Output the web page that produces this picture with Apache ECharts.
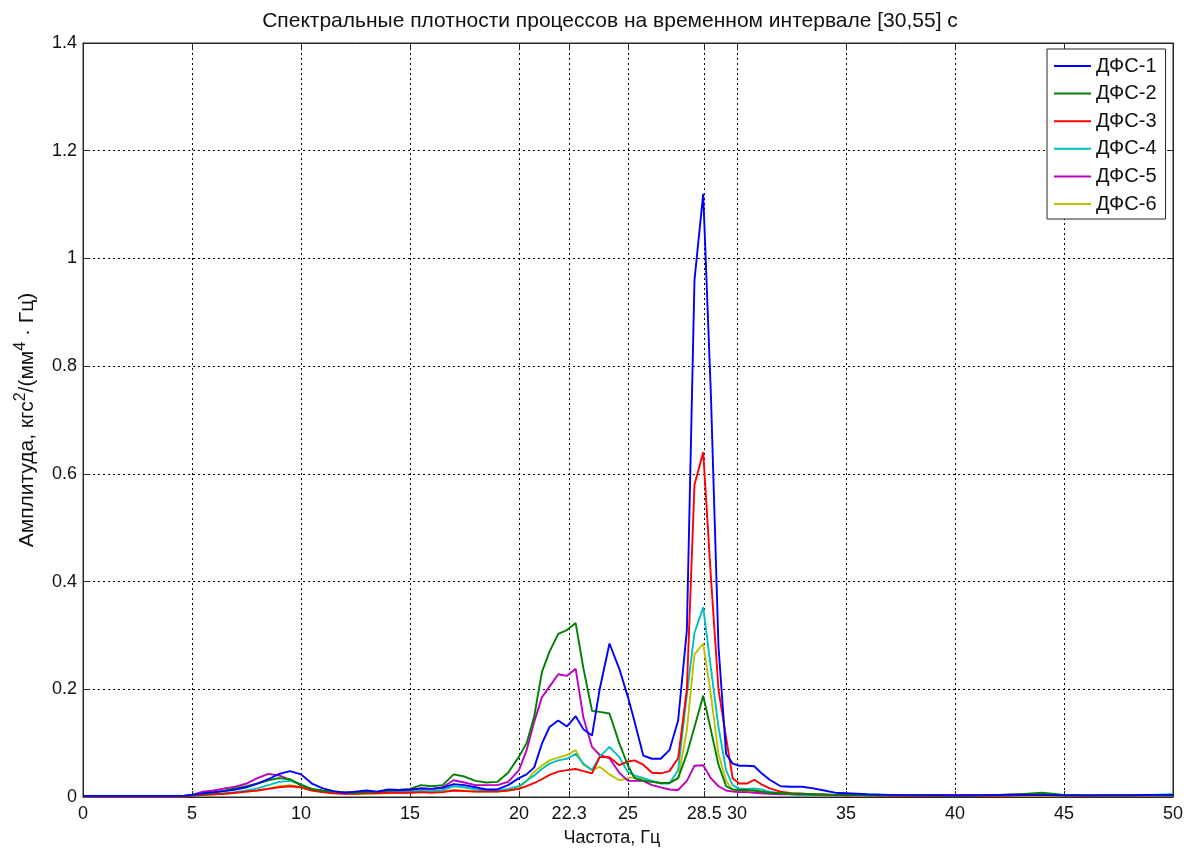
<!DOCTYPE html>
<html>
<head>
<meta charset="utf-8">
<script src="https://cdn.jsdelivr.net/npm/echarts@6/dist/echarts.min.js"></script>
<style>
html,body{margin:0;padding:0;background:#fff;}
#chart{width:1192px;height:852px;}
</style>
</head>
<body>
<div id="chart"></div>
<script>
const freqs = [0, 4.6,
  5.0, 5.5, 6.0, 6.5, 7.0, 7.5, 8.0, 8.5, 9.0, 9.5, 10.0, 10.5, 11.0, 11.5, 12.0, 12.5, 13.0, 13.5, 14.0, 14.5,
  15.0, 15.5, 16.0, 16.5, 17.0, 17.5, 18.0, 18.5, 19.0, 19.5, 20.0,
  20.35, 20.7, 21.05, 21.4, 21.8, 22.2, 22.6, 22.95, 23.35, 23.7, 24.15, 24.6, 25.0, 25.3, 25.7, 26.1, 26.5, 26.9,
  27.3, 27.7, 28.05, 28.45, 28.8, 29.15, 29.5, 29.8, 30.1, 30.45, 30.8, 31.1, 31.5,
  32.0, 32.5, 33.0, 33.5, 34.0, 34.5, 35.0,
  36, 37, 38, 39, 40, 41, 42, 43, 44, 45, 46, 47, 48, 49, 50];

const dfs1 = [0.002, 0.002,
  0.004, 0.007, 0.009, 0.011, 0.014, 0.018, 0.025, 0.033, 0.043, 0.048, 0.042, 0.025, 0.016, 0.011, 0.008, 0.010, 0.012, 0.010, 0.014, 0.013,
  0.014, 0.016, 0.015, 0.017, 0.024, 0.022, 0.018, 0.014, 0.014, 0.022, 0.035,
  0.042, 0.055, 0.099, 0.130, 0.142, 0.131, 0.150, 0.126, 0.114, 0.200, 0.285, 0.238, 0.185, 0.140, 0.077, 0.071, 0.071, 0.087,
  0.142, 0.310, 0.960, 1.120, 0.750, 0.280, 0.080, 0.062, 0.058, 0.058, 0.057, 0.045, 0.032,
  0.020, 0.019, 0.019, 0.016, 0.012, 0.008, 0.007,
  0.005, 0.004, 0.003, 0.003, 0.003, 0.003, 0.004, 0.004, 0.004, 0.003, 0.003, 0.003, 0.003, 0.004, 0.004];

const dfs2 = [0.002, 0.002,
  0.004, 0.006, 0.008, 0.012, 0.016, 0.020, 0.025, 0.031, 0.035, 0.033, 0.022, 0.015, 0.012, 0.010, 0.009, 0.008, 0.009, 0.010, 0.012, 0.013,
  0.015, 0.022, 0.020, 0.022, 0.042, 0.038, 0.030, 0.027, 0.028, 0.045, 0.075,
  0.100, 0.150, 0.232, 0.270, 0.303, 0.310, 0.323, 0.240, 0.160, 0.158, 0.155, 0.100, 0.058, 0.035, 0.030, 0.028, 0.026, 0.026,
  0.035, 0.080, 0.130, 0.188, 0.125, 0.060, 0.020, 0.014, 0.013, 0.013, 0.012, 0.010, 0.008,
  0.007, 0.006, 0.006, 0.005, 0.005, 0.004, 0.004,
  0.003, 0.003, 0.003, 0.003, 0.002, 0.003, 0.004, 0.005, 0.008, 0.004, 0.003, 0.003, 0.003, 0.003, 0.003];

const dfs3 = [0.001, 0.001,
  0.002, 0.004, 0.005, 0.006, 0.008, 0.010, 0.012, 0.015, 0.018, 0.020, 0.018, 0.012, 0.009, 0.007, 0.006, 0.006, 0.007, 0.007, 0.008, 0.008,
  0.008, 0.009, 0.008, 0.009, 0.012, 0.011, 0.010, 0.010, 0.010, 0.012, 0.015,
  0.020, 0.026, 0.033, 0.041, 0.047, 0.050, 0.052, 0.048, 0.044, 0.074, 0.074, 0.059, 0.066, 0.068, 0.060, 0.045, 0.044, 0.048,
  0.072, 0.200, 0.580, 0.640, 0.410, 0.200, 0.110, 0.035, 0.025, 0.025, 0.032, 0.024, 0.016,
  0.010, 0.007, 0.006, 0.005, 0.004, 0.004, 0.003,
  0.003, 0.002, 0.002, 0.002, 0.002, 0.002, 0.002, 0.003, 0.003, 0.003, 0.002, 0.003, 0.003, 0.003, 0.003];

const dfs4 = [0.001, 0.001,
  0.002, 0.004, 0.005, 0.007, 0.009, 0.012, 0.016, 0.022, 0.028, 0.030, 0.024, 0.014, 0.010, 0.008, 0.007, 0.007, 0.008, 0.008, 0.009, 0.009,
  0.010, 0.012, 0.011, 0.013, 0.020, 0.018, 0.014, 0.012, 0.012, 0.015, 0.020,
  0.030, 0.040, 0.052, 0.062, 0.068, 0.071, 0.080, 0.062, 0.050, 0.075, 0.093, 0.074, 0.046, 0.040, 0.035, 0.030, 0.025, 0.025,
  0.050, 0.190, 0.305, 0.352, 0.240, 0.130, 0.050, 0.022, 0.016, 0.015, 0.016, 0.014, 0.010,
  0.007, 0.005, 0.004, 0.004, 0.003, 0.003, 0.003,
  0.003, 0.002, 0.002, 0.002, 0.002, 0.002, 0.002, 0.003, 0.004, 0.003, 0.003, 0.003, 0.003, 0.004, 0.005];

const dfs5 = [0.002, 0.002,
  0.004, 0.010, 0.012, 0.016, 0.019, 0.025, 0.035, 0.043, 0.040, 0.032, 0.022, 0.014, 0.010, 0.008, 0.007, 0.008, 0.009, 0.009, 0.010, 0.011,
  0.012, 0.016, 0.015, 0.018, 0.031, 0.027, 0.022, 0.022, 0.022, 0.028, 0.050,
  0.087, 0.140, 0.185, 0.205, 0.228, 0.225, 0.238, 0.148, 0.093, 0.078, 0.072, 0.045, 0.030, 0.030, 0.030, 0.022, 0.018, 0.014,
  0.013, 0.030, 0.058, 0.059, 0.035, 0.020, 0.012, 0.010, 0.009, 0.009, 0.008, 0.007, 0.006,
  0.005, 0.005, 0.004, 0.004, 0.004, 0.003, 0.003,
  0.003, 0.003, 0.004, 0.004, 0.004, 0.004, 0.004, 0.005, 0.004, 0.003, 0.003, 0.003, 0.003, 0.003, 0.003];

const dfs6 = [0.002, 0.002,
  0.003, 0.004, 0.005, 0.006, 0.008, 0.010, 0.012, 0.016, 0.020, 0.022, 0.018, 0.012, 0.009, 0.007, 0.006, 0.006, 0.006, 0.007, 0.007, 0.008,
  0.008, 0.009, 0.009, 0.010, 0.013, 0.012, 0.010, 0.010, 0.010, 0.012, 0.016,
  0.030, 0.047, 0.058, 0.068, 0.073, 0.078, 0.087, 0.060, 0.050, 0.056, 0.042, 0.031, 0.035, 0.037, 0.032, 0.029, 0.026, 0.026,
  0.035, 0.124, 0.265, 0.285, 0.190, 0.080, 0.030, 0.012, 0.011, 0.011, 0.012, 0.010, 0.008,
  0.006, 0.005, 0.004, 0.004, 0.003, 0.003, 0.003,
  0.002, 0.002, 0.002, 0.002, 0.002, 0.002, 0.002, 0.002, 0.002, 0.002, 0.002, 0.002, 0.002, 0.003, 0.003];

const seriesNames = ['ДФС-1', 'ДФС-2', 'ДФС-3', 'ДФС-4', 'ДФС-5', 'ДФС-6'];
const seriesValues = [dfs1, dfs2, dfs3, dfs4, dfs5, dfs6];
const seriesColors = ['#0000FF', '#008000', '#FF0000', '#00BFBF', '#BF00BF', '#BFBF00'];

const xTicks = [0, 5, 10, 15, 20, 22.3, 25, 28.5, 30, 35, 40, 45, 50];
const titleText = 'Спектральные плотности процессов на временном интервале [30,55] с';
const xName = 'Частота, Гц';
const yName = 'Амплитуда, кгс{sup|2}/(мм{sup|4}{dot| · }Гц)';

const FONT = '"Liberation Sans", Arial, sans-serif';
const AX = '#262626';

const chart = echarts.init(document.getElementById('chart'), null, {renderer: 'canvas', width: 1192, height: 852});

const series = seriesNames.map((name, k) => ({
  name: name,
  type: 'line',
  xAxisIndex: 0,
  yAxisIndex: 0,
  symbol: 'none',
  smooth: false,
  animation: false,
  data: freqs.map((f, i) => [f, seriesValues[k][i]]),
  lineStyle: {color: seriesColors[k], width: 1.9},
  itemStyle: {color: seriesColors[k]},
  z: 10 - k
}));

const option = {
  animation: false,
  backgroundColor: '#fff',
  title: {
    text: titleText,
    left: 605,
    textAlign: 'center',
    top: 6,
    textStyle: {fontFamily: FONT, fontSize: 21, fontWeight: 'normal', color: '#111'}
  },
  grid: {
    left: 83, right: 19, top: 43, bottom: 52,
    show: true, borderColor: AX, borderWidth: 1, backgroundColor: '#fff',
    containLabel: false
  },
  legend: {
    orient: 'vertical',
    left: 1047, top: 49,
    padding: [7, 9, 5, 6],
    itemWidth: 37, itemHeight: 20, itemGap: 7.6,
    backgroundColor: '#fff',
    borderColor: AX, borderWidth: 1,
    itemStyle: {opacity: 0},
    lineStyle: {width: 2},
    textStyle: {fontFamily: FONT, fontSize: 20, color: '#111', lineHeight: 20},
    data: seriesNames
  },
  xAxis: [{
    type: 'value', min: 0, max: 50, position: 'bottom',
    name: xName, nameLocation: 'middle', nameGap: 32,
    nameTextStyle: {fontFamily: FONT, fontSize: 18, color: '#111', padding: [0, 32, 0, 0]},
    axisLine: {show: true, onZero: false, lineStyle: {color: AX, width: 1}},
    axisTick: {show: true, inside: true, length: 6, customValues: xTicks, lineStyle: {color: AX}},
    axisLabel: {show: true, customValues: xTicks, margin: 8, hideOverlap: false,
      fontFamily: FONT, fontSize: 18, color: '#111'},
    splitLine: {show: true, lineStyle: {color: '#000', type: [2, 3], width: 1}}
  }, {
    type: 'value', min: 0, max: 50, position: 'top',
    axisLine: {show: true, onZero: false, lineStyle: {color: AX, width: 1}},
    axisTick: {show: true, inside: true, length: 6, customValues: xTicks, lineStyle: {color: AX}},
    axisLabel: {show: false},
    splitLine: {show: false}
  }],
  yAxis: [{
    type: 'value', min: 0, max: 1.4, interval: 0.2, position: 'left',
    name: yName, nameLocation: 'middle', nameGap: 40,
    nameTextStyle: {
      fontFamily: FONT, fontSize: 21, color: '#111', lineHeight: 28,
      rich: {
        sup: {fontFamily: FONT, fontSize: 16, color: '#111', verticalAlign: 'top', lineHeight: 28, padding: [0, 0, 12, 0]},
        dot: {fontFamily: FONT, fontSize: 21, color: '#111', lineHeight: 28}
      }
    },
    axisLine: {show: true, onZero: false, lineStyle: {color: AX, width: 1}},
    axisTick: {show: true, inside: true, length: 6, lineStyle: {color: AX}},
    axisLabel: {show: true, margin: 6, fontFamily: FONT, fontSize: 18, color: '#111'},
    splitLine: {show: true, lineStyle: {color: '#000', type: [2, 3], width: 1}}
  }, {
    type: 'value', min: 0, max: 1.4, interval: 0.2, position: 'right',
    axisLine: {show: true, onZero: false, lineStyle: {color: AX, width: 1}},
    axisTick: {show: true, inside: true, length: 6, lineStyle: {color: AX}},
    axisLabel: {show: false},
    splitLine: {show: false}
  }],
  series: series
};

chart.setOption(option);
</script>
</body>
</html>
